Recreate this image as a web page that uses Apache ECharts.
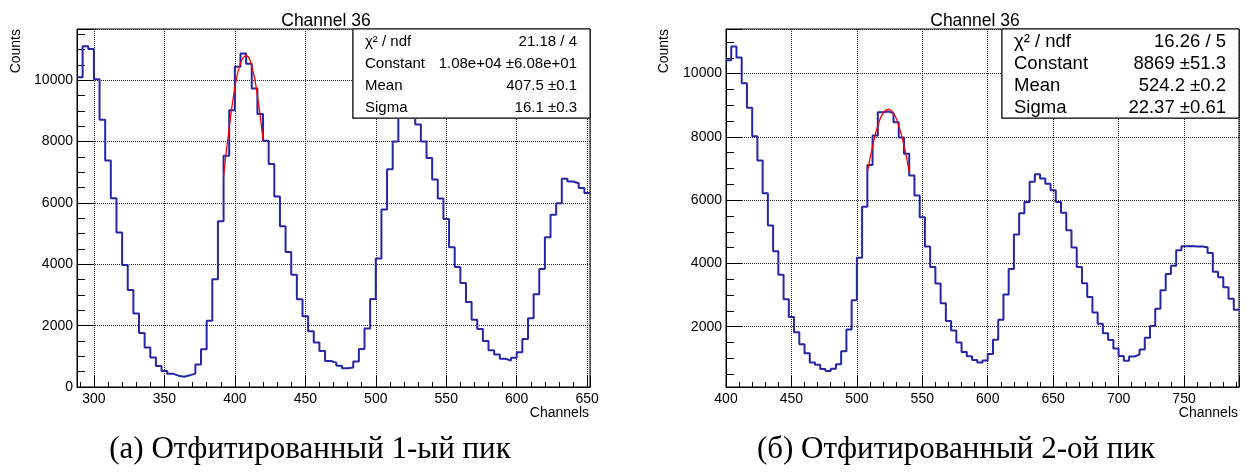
<!DOCTYPE html>
<html>
<head>
<meta charset="utf-8">
<title>Channel 36</title>
<script src="https://cdn.jsdelivr.net/npm/echarts@6/dist/echarts.min.js"></script>
<style>
  html, body { margin: 0; padding: 0; background: #fff; }
  #chart { width: 1248px; height: 472px; }
</style>
</head>
<body>
<div id="chart"></div>
<script>
// histogram bin contents (bins are 4 channels wide)
const binWidth = 4

const leftStart = 288
const leftEnd = 652
const leftCounts = [
  10100, 11110, 11020, 10030, 8710, 7380, 6150, 5040, 3980, 3160,
  2400, 1760, 1290, 960, 685, 520, 435, 370, 337, 380,
  435, 730, 1230, 2160, 3510, 5400, 7540, 9020, 10440, 10870,
  10540, 9730, 8900, 8030, 7270, 6210, 5240, 4400, 3660, 2860,
  2305, 1820, 1450, 1175, 850, 795, 690, 615, 635, 830,
  1240, 1910, 2870, 4190, 5790, 7100, 8000, 9050, 9350, 9150,
  8555, 8000, 7468, 6761, 6142, 5475, 4556, 3915, 3390, 2770,
  2190, 1890, 1500, 1195, 1060, 920, 860, 955, 1131, 1566,
  2240, 3023, 3850, 4883, 5612, 5993, 6787, 6700, 6640, 6483,
  6320
]

const rightStart = 400
const rightEnd = 792
const rightCounts = [
  10420, 10860, 10510, 9695, 8920, 8020, 7255, 6215, 5200, 4385,
  3643, 2868, 2308, 1824, 1450, 1165, 870, 800, 665, 600,
  675, 812, 1223, 1914, 2836, 4180, 5790, 7114, 8044, 8777,
  8800, 8750, 8466, 7980, 7465, 6780, 6147, 5462, 4533, 3890,
  3369, 2742, 2180, 1877, 1500, 1200, 1066, 950, 866, 934,
  1140, 1592, 2220, 3016, 3828, 4913, 5588, 5946, 6580, 6816,
  6685, 6520, 6310, 5941, 5600, 5050, 4507, 3885, 3374, 2936,
  2446, 2098, 1793, 1582, 1308, 1071, 923, 1060, 1118, 1282,
  1650, 2025, 2568, 3153, 3665, 3927, 4418, 4540, 4550, 4537,
  4534, 4513, 4334, 3738, 3560, 3248, 2888, 2536
]

// red fit curves
const leftFitX = [392, 396, 400, 404, 408, 412, 416, 420]
const leftFitY = [6870, 8450, 9750, 10550, 10800, 10450, 9500, 8050]
const rightFitX = [508, 512, 516, 520, 524, 528, 532, 536, 540]
const rightFitY = [6880, 7700, 8350, 8750, 8870, 8750, 8350, 7720, 6900]

const leftStats = [
  ['χ² / ndf', '21.18 / 4'],
  ['Constant', '1.08e+04 ±6.08e+01'],
  ['Mean', '407.5 ±0.1'],
  ['Sigma', '16.1 ±0.3']
]
const rightStats = [
  ['χ² / ndf', '16.26 / 5'],
  ['Constant', '8869 ±51.3'],
  ['Mean', '524.2 ±0.2'],
  ['Sigma', '22.37 ±0.61']
]
const titles = ['Channel 36', 'Channel 36']
const captions = ['(а) Отфитированный 1-ый пик', '(б) Отфитированный 2-ой пик']

const leftY = [0, 11670]
const rightY = [95, 11410]

const FONT = 'Liberation Sans, Arial, sans-serif'
const blue = '#2626a6'

function steps(start, counts) {
  const pts = counts.map((v, i) => [start + i * binWidth, v])
  pts.push([start + counts.length * binWidth, counts[counts.length - 1]])
  return pts
}

function zip(xs, ys) {
  return xs.map((x, i) => [x, ys[i]])
}

const gridLine = { show: true, lineStyle: { color: '#222', width: 1, type: 'dotted' } }

function xMajor(grid, min, max) {
  return {
    type: 'value', gridIndex: grid, position: 'bottom', min, max,
    minInterval: 50, maxInterval: 50,
    axisLine: { show: true, onZero: false, lineStyle: { color: '#000', width: 1 } },
    axisTick: { show: true, inside: true, length: 11, lineStyle: { color: '#000', width: 1 } },
    axisLabel: {
      margin: 5, color: '#000', fontFamily: FONT, fontSize: 14,
      formatter: v => (v % 50 === 0 ? String(v) : '')
    },
    splitLine: gridLine
  }
}

function xMinor(grid, min, max) {
  return {
    type: 'value', gridIndex: grid, position: 'bottom', min, max,
    minInterval: 10, maxInterval: 10,
    axisLine: { show: false, onZero: false },
    axisTick: { show: true, inside: true, length: 5, lineStyle: { color: '#000', width: 1 } },
    axisLabel: { show: false },
    splitLine: { show: false }
  }
}

function yMajor(grid, range) {
  return {
    type: 'value', gridIndex: grid, position: 'left', min: range[0], max: range[1],
    minInterval: 2000, maxInterval: 2000,
    axisLine: { show: true, onZero: false, lineStyle: { color: '#000', width: 1 } },
    axisTick: { show: true, inside: true, length: 16, lineStyle: { color: '#000', width: 1 } },
    axisLabel: {
      margin: 4, color: '#000', fontFamily: FONT, fontSize: 14,
      formatter: v => (v % 2000 === 0 ? String(v) : '')
    },
    splitLine: gridLine
  }
}

function yMinor(grid, range) {
  return {
    type: 'value', gridIndex: grid, position: 'left', min: range[0], max: range[1],
    minInterval: 500, maxInterval: 500,
    axisLine: { show: false, onZero: false },
    axisTick: { show: true, inside: true, length: 8, lineStyle: { color: '#000', width: 1 } },
    axisLabel: { show: false },
    splitLine: { show: false }
  }
}

// stats box in ROOT style
function statsBox(x, y, w, h, rows, fontSize, textLeft, textRight, rowY) {
  const els = [
    { type: 'rect', z: 100, shape: { x: x - 1, y: y + 1, width: w, height: h }, style: { fill: '#777' } },
    { type: 'rect', z: 101, shape: { x: x, y: y, width: w, height: h }, style: { fill: '#fff', stroke: '#000', lineWidth: 1 } }
  ]
  rows.forEach((r, i) => {
    els.push({
      type: 'text', z: 102, x: textLeft, y: rowY[i],
      style: { text: r[0], fill: '#000', font: fontSize + 'px ' + FONT, textAlign: 'left', textVerticalAlign: 'middle' }
    })
    els.push({
      type: 'text', z: 102, x: textRight, y: rowY[i],
      style: { text: r[1], fill: '#000', font: fontSize + 'px ' + FONT, textAlign: 'right', textVerticalAlign: 'middle' }
    })
  })
  return els
}

function label(text, x, y, size, align, rotation) {
  return {
    type: 'text', x, y, rotation: rotation || 0, z: 100,
    style: { text, fill: '#000', font: size + 'px ' + FONT, textAlign: align, textVerticalAlign: 'middle' }
  }
}

function caption(text, x, y) {
  return {
    type: 'text', x, y, z: 100,
    style: { text, fill: '#000', font: '31px Liberation Serif, serif', textAlign: 'center', textVerticalAlign: 'middle' }
  }
}

const rowY = [41.5, 63.5, 85.5, 107.5]

const chart = echarts.init(document.getElementById('chart'), null, { renderer: 'canvas' })
const options = {
  animation: false,
  backgroundColor: '#fff',
  grid: [
    { left: 77, top: 29, width: 513, height: 358, show: true, borderColor: '#000', borderWidth: 1, backgroundColor: 'transparent' },
    { left: 726, top: 29, width: 513, height: 358, show: true, borderColor: '#000', borderWidth: 1, backgroundColor: 'transparent' }
  ],
  xAxis: [
    xMajor(0, leftStart, leftEnd),
    xMinor(0, leftStart, leftEnd),
    xMajor(1, rightStart, rightEnd),
    xMinor(1, rightStart, rightEnd)
  ],
  yAxis: [
    yMajor(0, leftY),
    yMinor(0, leftY),
    yMajor(1, rightY),
    yMinor(1, rightY)
  ],
  series: [
    {
      type: 'line', xAxisIndex: 0, yAxisIndex: 0, step: 'end', symbol: 'none',
      data: steps(leftStart, leftCounts), lineStyle: { color: blue, width: 2 }
    },
    {
      type: 'line', xAxisIndex: 0, yAxisIndex: 0, smooth: true, symbol: 'none', z: 3,
      data: zip(leftFitX, leftFitY), lineStyle: { color: '#ff0000', width: 1.3 }
    },
    {
      type: 'line', xAxisIndex: 2, yAxisIndex: 2, step: 'end', symbol: 'none',
      data: steps(rightStart, rightCounts), lineStyle: { color: blue, width: 2 }
    },
    {
      type: 'line', xAxisIndex: 2, yAxisIndex: 2, smooth: true, symbol: 'none', z: 3,
      data: zip(rightFitX, rightFitY), lineStyle: { color: '#ff0000', width: 1.3 }
    }
  ],
  graphic: [
    label(titles[0], 326, 21, 17.5, 'center'),
    label(titles[1], 975, 21, 17.5, 'center'),
    label('Counts', 16, 29, 14, 'right', Math.PI / 2),
    label('Counts', 664, 29, 14, 'right', Math.PI / 2),
    label('Channels', 589, 413, 14, 'right'),
    label('Channels', 1238, 413, 14, 'right'),
    ...statsBox(353, 29, 237, 89, leftStats, 15, 365, 577, rowY),
    ...statsBox(1002, 29, 237, 89, rightStats, 18.5, 1014, 1226, rowY),
    caption(captions[0], 310, 450),
    caption(captions[1], 956, 450)
  ]
}
chart.setOption(options)
window.addEventListener('resize', () => {
  chart.resize()
})
</script>
</body>
</html>
